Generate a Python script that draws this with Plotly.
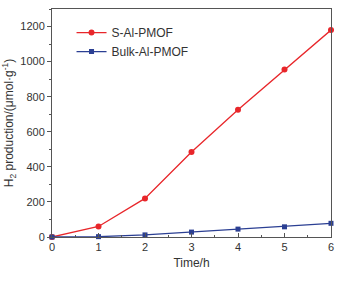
import plotly.graph_objects as go

time_h = [0, 1, 2, 3, 4, 5, 6]
s_al_pmof = [0, 60, 220, 485, 725, 955, 1180]
bulk_al_pmof = [0, 2, 12, 28, 45, 58, 78]

fig = go.Figure()
fig.add_trace(go.Scatter(x=time_h, y=s_al_pmof, mode="lines+markers", name="S-Al-PMOF",
                         line=dict(color="#e8262a", width=1.3),
                         marker=dict(symbol="circle", size=6, color="#e8262a"), cliponaxis=False))
fig.add_trace(go.Scatter(x=time_h, y=bulk_al_pmof, mode="lines+markers", name="Bulk-Al-PMOF",
                         line=dict(color="#2b3f93", width=1.3),
                         marker=dict(symbol="square", size=5, color="#2b3f93"), cliponaxis=False))

axcol = "#555555"
fig.update_layout(
    width=344, height=283,
    margin=dict(l=48, r=13, t=8, b=46),
    paper_bgcolor="white", plot_bgcolor="white",
    font=dict(family="Arial, Liberation Sans, sans-serif", size=11, color="#333333"),
    showlegend=True,
    legend=dict(x=0.07, y=0.96, xanchor="left", yanchor="top", bgcolor="rgba(0,0,0,0)",
                font=dict(size=12, color="#333333"), tracegroupgap=0, itemwidth=30),
    xaxis=dict(range=[0, 6], dtick=1, showgrid=False, zeroline=False,
               showline=True, linecolor=axcol, linewidth=1, mirror=True,
               ticks="inside", ticklen=4, tickcolor=axcol,
               minor=dict(ticks="inside", ticklen=2, dtick=0.5, tickcolor=axcol),
               title=dict(text="Time/h", font=dict(size=12), standoff=6)),
    yaxis=dict(range=[0, 1300], tickvals=[0, 200, 400, 600, 800, 1000, 1200],
               showgrid=False, zeroline=False,
               showline=True, linecolor=axcol, linewidth=1, mirror=True,
               ticks="outside", ticklen=4, tickcolor=axcol,
               minor=dict(ticks="outside", ticklen=2, dtick=100, tickcolor=axcol),
               title=dict(text="H<sub>2</sub> production/(μmol·g<sup>-1</sup>)", font=dict(size=12), standoff=4)),
)

fig.write_html("out.html", config={"displayModeBar": False},
               post_script="document.body.style.margin='0';")
